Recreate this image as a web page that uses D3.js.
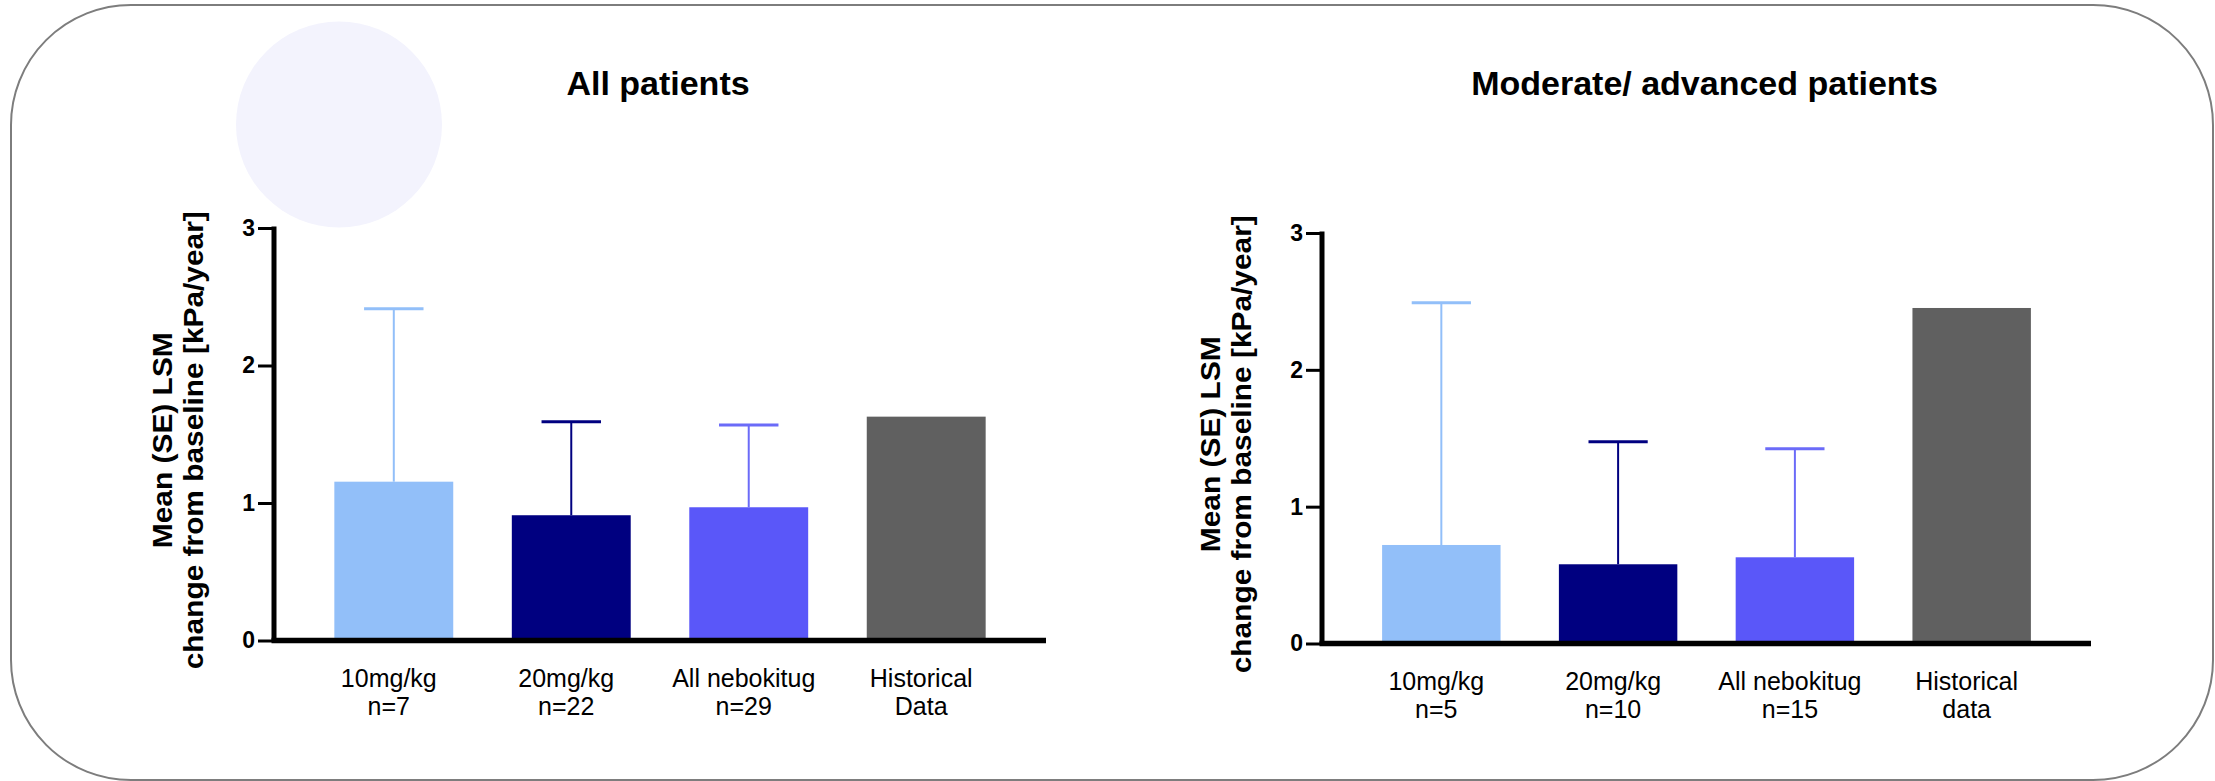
<!DOCTYPE html>
<html>
<head>
<meta charset="utf-8">
<script src="https://cdn.jsdelivr.net/npm/d3@7"></script>
<style>
  body { margin: 0; background: #fff; }
  svg { display: block; font-family: "Liberation Sans", Arial, sans-serif; }
</style>
</head>
<body>
<svg id="chart"></svg>
<script>
// page size
const width = 2215;
const height = 781;

// data
const groupsAll = ["10mg/kg|n=7", "20mg/kg|n=22", "All nebokitug|n=29", "Historical|Data"];
const meansAll = [1.155, 0.911, 0.969, 1.628];
const seAll = [1.258, 0.680, 0.598, null];

const groupsMod = ["10mg/kg|n=5", "20mg/kg|n=10", "All nebokitug|n=15", "Historical|data"];
const meansMod = [0.720, 0.579, 0.630, 2.452];
const seMod = [1.771, 0.896, 0.794, null];

const barColors = ["#92BFF9", "#000080", "#5A57F9", "#606060"];
const errColors = ["#92BFF9", "#000080", "#6B6BF8", "#606060"];
const yTicks = [0, 1, 2, 3];

const svg = d3.select("#chart")
    .attr("width", width)
    .attr("height", height);

// rounded frame
svg.append("rect")
    .attr("x", 11).attr("y", 5)
    .attr("width", 2202).attr("height", 775)
    .attr("rx", 120).attr("ry", 120)
    .attr("fill", "#fff")
    .attr("stroke", "#7d7d7d")
    .attr("stroke-width", 2);

// decorative circle
svg.append("circle")
    .attr("cx", 339).attr("cy", 124.5).attr("r", 103)
    .attr("fill", "#F3F3FD");

// draw one panel
function drawPanel(opts) {
    const { title, groups, means, se, x0, x1, yTop, yZero } = opts;

    const x = d3.scaleBand()
        .domain(groups)
        .range([x0, x1])
        .paddingInner(0.33)
        .paddingOuter(0.34);

    const y = d3.scaleLinear()
        .domain([0, 3])
        .range([yZero, yTop]);

    const g = svg.append("g");

    // title
    g.append("text")
        .attr("x", (x0 + x1) / 2 - 2)
        .attr("y", 95)
        .attr("text-anchor", "middle")
        .attr("font-weight", "bold")
        .attr("font-size", 34)
        .text(title);

    // y axis ticks + labels
    const yAxis = d3.axisLeft(y)
        .tickValues(yTicks)
        .tickFormat(d3.format("d"))
        .tickSize(14)
        .tickSizeOuter(0)
        .tickPadding(3);

    const ax = g.append("g")
        .attr("transform", `translate(${x0 - 2},0)`)
        .call(yAxis);
    ax.select(".domain").remove();
    ax.selectAll(".tick line").attr("stroke", "#000").attr("stroke-width", 3);
    ax.selectAll(".tick text")
        .attr("fill", "#000")
        .attr("font-size", 23)
        .attr("font-weight", "bold")
        .attr("font-family", "'Liberation Sans', Arial, sans-serif");

    // bars
    const data = groups.map((k, i) => ({ key: k, mean: means[i], se: se[i], i }));

    g.selectAll(".bar")
        .data(data)
        .enter().append("rect")
        .attr("class", "bar")
        .attr("x", d => x(d.key))
        .attr("width", x.bandwidth())
        .attr("y", d => y(d.mean))
        .attr("height", d => y(0) - y(d.mean))
        .attr("fill", d => barColors[d.i]);

    // error bars (upper only)
    const eb = data.filter(d => d.se != null);
    const capW = x.bandwidth() / 2;
    g.selectAll(".err")
        .data(eb)
        .enter().append("line")
        .attr("x1", d => x(d.key) + x.bandwidth() / 2)
        .attr("x2", d => x(d.key) + x.bandwidth() / 2)
        .attr("y1", d => y(d.mean))
        .attr("y2", d => y(d.mean + d.se))
        .attr("stroke", d => errColors[d.i])
        .attr("stroke-width", 2);
    g.selectAll(".cap")
        .data(eb)
        .enter().append("line")
        .attr("x1", d => x(d.key) + x.bandwidth() / 2 - capW / 2)
        .attr("x2", d => x(d.key) + x.bandwidth() / 2 + capW / 2)
        .attr("y1", d => y(d.mean + d.se))
        .attr("y2", d => y(d.mean + d.se))
        .attr("stroke", d => errColors[d.i])
        .attr("stroke-width", 3);

    // axis lines
    g.append("line")
        .attr("x1", x0).attr("x2", x0)
        .attr("y1", y(3) - 1.5).attr("y2", y(0))
        .attr("stroke", "#000").attr("stroke-width", 5);
    g.append("line")
        .attr("x1", x0 - 2.5).attr("x2", x1)
        .attr("y1", y(0)).attr("y2", y(0))
        .attr("stroke", "#000").attr("stroke-width", 5.5);

    // category labels
    const lab = g.selectAll(".cat")
        .data(data)
        .enter().append("text")
        .attr("class", "cat")
        .attr("text-anchor", "middle")
        .attr("font-size", 25)
        .attr("fill", "#000");
    lab.each(function (d) {
        const parts = d.key.split("|");
        const cx = x(d.key) + x.bandwidth() / 2 - 5;
        parts.forEach((p, j) => {
            d3.select(this).append("tspan")
                .attr("x", cx)
                .attr("y", y(0) + 46.5 + j * 28)
                .text(p);
        });
    });

    // y axis title (two lines)
    const midY = (y(0) + y(3)) / 2 + 6;
    const yLines = [
        { text: "Mean (SE) LSM", off: 102, len: 216 },
        { text: "change from baseline [kPa/year]", off: 71, len: 458 }
    ];
    yLines.forEach(l => {
        g.append("text")
            .attr("transform", `translate(${x0 - l.off},${midY}) rotate(-90)`)
            .attr("text-anchor", "middle")
            .attr("font-weight", "bold")
            .attr("font-size", 27)
            .attr("textLength", l.len)
            .attr("lengthAdjust", "spacingAndGlyphs")
            .text(l.text);
    });
}

drawPanel({
    title: "All patients",
    groups: groupsAll, means: meansAll, se: seAll,
    x0: 274, x1: 1046, yTop: 228, yZero: 640.5
});

drawPanel({
    title: "Moderate/ advanced patients",
    groups: groupsMod, means: meansMod, se: seMod,
    x0: 1322, x1: 2091, yTop: 233, yZero: 643.5
});
</script>
</body>
</html>
